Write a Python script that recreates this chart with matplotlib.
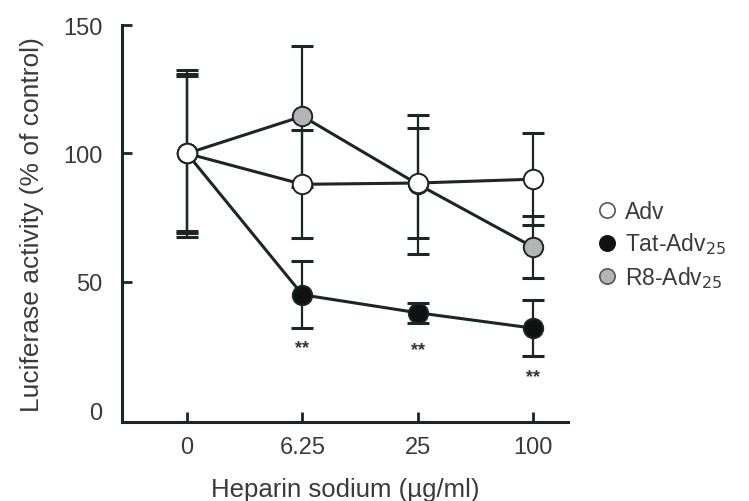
import matplotlib
matplotlib.use("Agg")
import matplotlib.pyplot as plt
from matplotlib.lines import Line2D

plt.rcParams['font.family'] = ['Liberation Sans', 'DejaVu Sans']

# heparin doses (categorical positions)
doses = ["0", "6.25", "25", "100"]

# Adv
adv_mean = [100, 88, 88.5, 90]
adv_err = [31, 21, 21.5, 18]
# Tat-Adv25
tat_mean = [100, 45, 38, 32]
tat_err = [30, 13, 4, 11]
# R8-Adv25
r8_mean = [100, 114.5, 88, 63.5]
r8_err = [32.5, 27.5, 27, 12]

# significance marks under Tat-Adv25
star_y = [24.5, 23.5, 13]

ink = "#1c2626"
txt = "#3a3a3a"

fig = plt.figure(figsize=(7.49, 5.02), dpi=100)
ax = fig.add_axes([0.1629, 0.1574, 0.5955, 0.7908])

x = list(range(len(doses)))

series = [
    (r8_mean, r8_err, "#b4b4b4", 3),
    (tat_mean, tat_err, "#111111", 4),
    (adv_mean, adv_err, "white", 5),
]
for mean, err, fc, z in series:
    ax.errorbar(x, mean, yerr=err, fmt="none", ecolor=ink, elinewidth=1.6,
                capsize=8, capthick=2.2, zorder=2)
    ax.plot(x, mean, color=ink, lw=2.2, marker="o", markersize=14,
            markerfacecolor=fc, markeredgecolor=ink, markeredgewidth=1.4,
            zorder=z)

for xi, yi in zip(x[1:], star_y):
    ax.text(xi, yi, "**", ha="center", va="center", fontsize=13,
            color="#333333", fontweight="bold")

ax.set_xlim(-0.563, 3.30)
ax.set_ylim(-4.5, 150)
ax.set_xticks(x)
ax.set_xticklabels(doses)
ax.set_yticks([0, 50, 100, 150])

for s in ["top", "right"]:
    ax.spines[s].set_visible(False)
for s in ["left", "bottom"]:
    ax.spines[s].set_linewidth(2.2)
    ax.spines[s].set_color(ink)

ax.tick_params(direction="in", length=7, width=2, color=ink,
               labelsize=17, labelcolor=txt)
ax.tick_params(axis="y", pad=14)
ax.tick_params(axis="x", pad=10)
ax.yaxis.get_major_ticks()[0].tick1line.set_visible(False)

ax.set_xlabel("Heparin sodium (µg/ml)", fontsize=18.5, color=txt, labelpad=14)
ax.set_ylabel("Luciferase activity (% of control)", fontsize=19, color=txt,
              labelpad=14)

handles = [
    Line2D([], [], ls="none", marker="o", markersize=11, markerfacecolor="white",
           markeredgecolor="#555555", markeredgewidth=1.2),
    Line2D([], [], ls="none", marker="o", markersize=11, markerfacecolor="#111111",
           markeredgecolor="#111111", markeredgewidth=1.2),
    Line2D([], [], ls="none", marker="o", markersize=11, markerfacecolor="#b4b4b4",
           markeredgecolor="#555555", markeredgewidth=1.2),
]
labels = ["Adv", "Tat-Adv$_{25}$", "R8-Adv$_{25}$"]
leg = fig.legend(handles, labels, loc="center left", bbox_to_anchor=(0.768, 0.51),
                 frameon=False, fontsize=16.5, handletextpad=0.25,
                 labelspacing=0.35, handlelength=1.0)
for t in leg.get_texts():
    t.set_color(txt)

fig.savefig("out.png", dpi=100)
